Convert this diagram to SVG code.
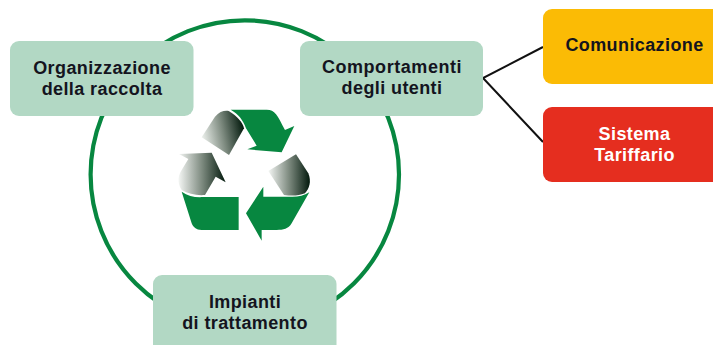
<svg xmlns="http://www.w3.org/2000/svg" width="713" height="345" viewBox="0 0 713 345">
<style>
.b{fill:#b2d8c4}
.t{font-family:"Liberation Sans",Arial,sans-serif;font-weight:700;font-size:18px;letter-spacing:.4px;text-anchor:middle;fill:#14141e}
.w{fill:#fff}
.g{fill:#078740}
.l{fill:none;stroke:#111;stroke-width:2}
</style>
<defs>
<linearGradient id="gr1" x1="0" y1="0.6" x2="1" y2="0.4"><stop offset="0" stop-color="#eef2ee"/><stop offset="0.5" stop-color="#7d8a7f"/><stop offset="1" stop-color="#02190c"/></linearGradient>
<linearGradient id="gr2" x1="0" y1="0.5" x2="1" y2="0.5"><stop offset="0" stop-color="#f4f6f4"/><stop offset="0.5" stop-color="#7d8a7f"/><stop offset="1" stop-color="#02190c"/></linearGradient>
</defs>
<rect width="713" height="345" fill="#fff"/>
<g id="ring"><circle cx="244.800" cy="174.500" r="154.200" fill="none" stroke="#078740" stroke-width="4.200"/></g>
<g id="connectors"><path class="l" d="M543 47L483 78L543 142"/></g>
<g id="recycle" transform="translate(160 95) scale(.3333)">
<path class="g" d="M212 44H320C345 44 352 60 375 105L403 93L365 172L262 163L290 152L258 100C248 72 235 58 212 44Z"/>
<path fill="url(#gr1)" d="M125 127L165 65C178 50 192 46 206 48C232 64 248 82 252 100L207 180Z"/>
<path fill="url(#gr2)" d="M325 228L408 178L445 235C455 260 448 280 435 295C415 303 395 303 372 300Z"/>
<path class="g" d="M448 292L395 385C385 402 370 405 350 405H305V437L258 355L310 275V305H385C410 307 430 303 448 292Z"/>
<path fill="url(#gr2)" d="M57 177L155 173L197 262L167 245L135 300C110 302 85 297 65 285C50 262 55 240 65 225L85 192Z"/>
<path class="g" d="M65 290C85 303 105 308 130 306H236V405H125C108 405 100 397 95 385Z"/>
</g>
<g id="organizzazione"><rect class="b" x="10" y="41" width="183.500" height="75" rx="9"/><text class="t" x="102" y="74">Organizzazione</text><text class="t" x="102" y="95">della raccolta</text></g>
<g id="comportamenti"><rect class="b" x="300" y="41" width="183" height="75" rx="9"/><text class="t" x="392" y="73" style="letter-spacing:.55px">Comportamenti</text><text class="t" x="392" y="94">degli utenti</text></g>
<g id="impianti"><rect class="b" x="153" y="275" width="183.500" height="85" rx="9"/><text class="t" x="245" y="308">Impianti</text><text class="t" x="245" y="329">di trattamento</text></g>
<g id="comunicazione"><rect x="543" y="9" width="190" height="75" rx="9" fill="#fbbb05"/><text class="t" x="634.500" y="51">Comunicazione</text></g>
<g id="sistema"><rect x="543" y="107" width="190" height="75" rx="9" fill="#e52e1f"/><text class="t w" x="634.500" y="140" style="fill:#fff">Sistema</text><text class="t w" x="634.500" y="161" style="fill:#fff">Tariffario</text></g>
</svg>
